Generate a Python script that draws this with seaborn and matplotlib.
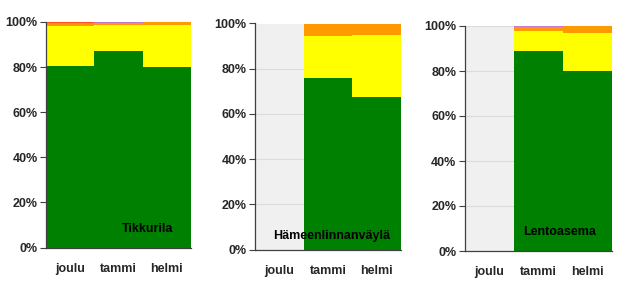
import numpy as np
import pandas as pd
import matplotlib
matplotlib.use("Agg")
import matplotlib.pyplot as plt
import seaborn as sns

sns.set_style("white")
plt.rcParams['font.family'] = ['Liberation Sans', 'DejaVu Sans']

categories = ['joulu', 'tammi', 'helmi']
stations = ['Tikkurila', 'Hämeenlinnanväylä', 'Lentoasema']
nan = np.nan
green = [[80.4, 87.2, 79.9], [nan, 76.0, 67.4], [nan, 89.1, 79.8]]
yellow = [[17.8, 11.6, 18.9], [nan, 18.5, 27.5], [nan, 8.8, 17.2]]
orange = [[1.3, 0.8, 1.2], [nan, 5.5, 5.1], [nan, 1.5, 3.0]]
red = [[0.5, 0.0, 0.0], [nan, 0.0, 0.0], [nan, 0.0, 0.0]]
purple = [[0.0, 0.4, 0.0], [nan, 0.0, 0.0], [nan, 0.6, 0.0]]
yticks = [0, 20, 40, 60, 80, 100]
ytick_labels = ['0%', '20%', '40%', '60%', '80%', '100%']

layer_colors = ['#008000', '#FFFF00', '#FF9900', '#FF4A1A', '#C878C8']

fig = plt.figure(figsize=(6.4, 3.04), dpi=100)
W, H = 640, 304
# (left, right, top, bottom) in pixels
boxes = [(46, 191, 22, 247.5), (255, 401, 23.5, 249.5), (464.5, 611.5, 26, 251)]
label_pos = [(148, 229.5), (331.5, 235.5), (559.5, 232)]

for i, st in enumerate(stations):
    l, r, t, b = boxes[i]
    ax = fig.add_axes([l / W, 1 - b / H, (r - l) / W, (b - t) / H])
    ax.set_facecolor('#F0F0F0')
    layers = [green[i], yellow[i], orange[i], red[i], purple[i]]
    cum = np.cumsum(np.array(layers, dtype=float), axis=0)
    for k in range(len(layers) - 1, -1, -1):
        df = pd.DataFrame({'cat': categories, 'val': cum[k]})
        sns.barplot(data=df, x='cat', y='val', order=categories, color=layer_colors[k],
                    width=1.0, errorbar=None, saturation=1, linewidth=0, ax=ax, zorder=2)
    ax.set_xlim(-0.5, 2.5)
    ax.set_ylim(0, 100)
    ax.set_xlabel('')
    ax.set_ylabel('')
    ax.set_yticks(yticks)
    ax.set_yticklabels(ytick_labels, fontsize=9, fontweight='bold')
    ax.set_xticks(range(len(categories)))
    ax.set_xticklabels(categories, fontsize=9, fontweight='bold')
    ax.set_xticks([-0.5, 0.5, 1.5, 2.5], minor=True)
    ax.tick_params(axis='x', which='major', length=0, pad=11)
    ax.tick_params(axis='x', which='minor', length=4, width=0.8, color='#404040', direction='out')
    ax.tick_params(axis='y', length=4, width=0.8, color='#404040', direction='out', pad=2, left=True)
    ax.yaxis.grid(True, color='#DCDCDC', linewidth=0.8, zorder=0)
    ax.set_axisbelow(True)
    for s in ['top', 'right']:
        ax.spines[s].set_visible(False)
    for s in ['left', 'bottom']:
        ax.spines[s].set_color('#404040')
        ax.spines[s].set_linewidth(0.9)
        ax.spines[s].set_zorder(5)
    lx, ly = label_pos[i]
    fig.text(lx / W, 1 - ly / H, st, ha='center', va='center', fontsize=9,
             fontweight='bold', color='black', zorder=10)

fig.savefig('out.png', dpi=100)
